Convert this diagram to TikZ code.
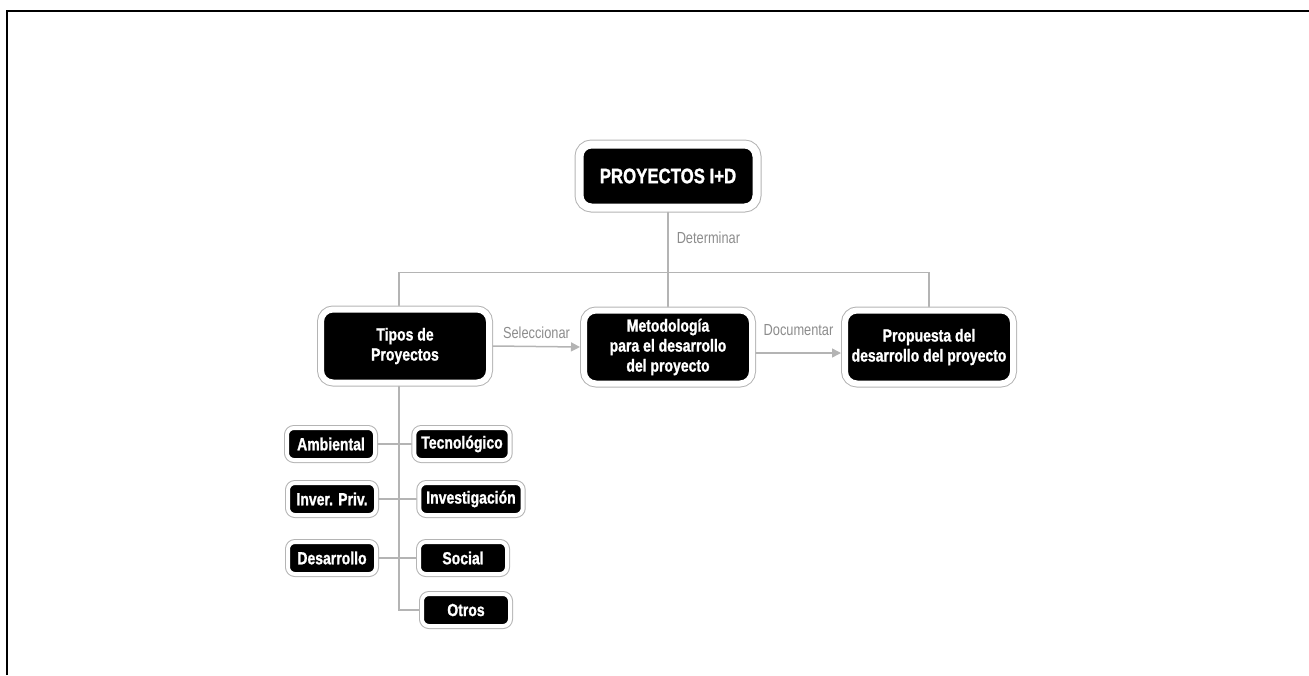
\documentclass[tikz,border=0pt]{standalone}
\usepackage{fontspec}
\setmainfont{Liberation Sans}[FakeStretch=0.8,BoldFeatures={FakeBold=1.2}]
\usetikzlibrary{arrows.meta}
\definecolor{linegray}{HTML}{B4B4B4}
\definecolor{txtgray}{HTML}{8C8C8C}

\begin{document}
\begin{tikzpicture}[x=1pt,y=-1pt,>={Triangle[length=9pt,width=9pt]},line cap=round,
				conn/.style={draw=linegray,line width=1.5pt},
				lbl/.style={text=txtgray,inner sep=0pt,font=\fontsize{16}{18}\selectfont},
				topbox/.style={fill=black,text=white,draw=white,line width=8pt,rounded corners=12pt,
					preaction={draw=linegray,line width=10pt},outer sep=5pt,
					minimum width=177pt,minimum height=63pt,font=\bfseries\fontsize{21}{24}\selectfont},
				mainbox/.style={fill=black,text=white,draw=white,line width=6pt,rounded corners=12pt,
					preaction={draw=linegray,line width=8pt},outer sep=4pt,align=center,inner sep=2pt,
					minimum width=168pt,minimum height=73pt,font=\bfseries\fontsize{17.5}{20}\selectfont},
				subbox/.style={fill=black,text=white,draw=white,line width=4pt,rounded corners=7pt,
					preaction={draw=linegray,line width=6pt},outer sep=3pt,inner xsep=7pt,inner ysep=2pt,
					minimum width=88pt,minimum height=32pt,font=\bfseries\fontsize{17.5}{20}\selectfont}]
				\useasboundingbox (0,0) rectangle (1309,675);
				\draw[line width=2.5pt,line cap=butt] (7,675) -- (7,11) -- (1309,11);
				%\draw[help lines,step=50] (0,0) grid (1309,675);
				
				\node[topbox] (top) at (668,176) {PROYECTOS I+D};
				\node[mainbox] (tipos) at (405,346) {Tipos de\\Proyectos};
				\node[mainbox] (metod) at (668,347) {Metodología\\para el desarrollo\\del proyecto};
				\node[mainbox] (prop) at (929,347) {Propuesta del\\desarrollo del proyecto};
				
				\draw[conn] (top.south) -- node[lbl,right=8pt,pos=0.42] (det) {Determinar} ++(0,60) coordinate (j);
				\draw[conn] ([xshift=-6pt]tipos.north) |- (j) -| (prop.north);
				\draw[conn] (j) -- (metod.north);
				\draw[conn,->] (tipos.east) -- node[lbl,above=7pt] (sel) {Seleccionar} (metod.west);
				\draw[conn,->] ([yshift=-6pt]metod.east) -- node[lbl,above=17pt] (doc) {Documentar} ([yshift=-6pt]prop.west);
				
				\node[subbox] (amb) at (331,444) {Ambiental};
				\node[subbox] (tec) at (462,444) {Tecnológico};
				\node[subbox] (inv) at (332,499) {Inver. Priv.};
				\node[subbox] (invest) at (471,499) {Investigación};
				\node[subbox] (des) at (332,558) {Desarrollo};
				\node[subbox] (soc) at (463,558) {Social};
				\node[subbox] (otros) at (466,610) {Otros};
				
				\draw[conn] ([xshift=-6pt]tipos.south) |- (otros.west);
				\foreach \A/\B in {amb/tec,inv/invest,des/soc}
				{\draw[conn] (\A.east) -- (\B.west);}
			\end{tikzpicture}
\end{document}
